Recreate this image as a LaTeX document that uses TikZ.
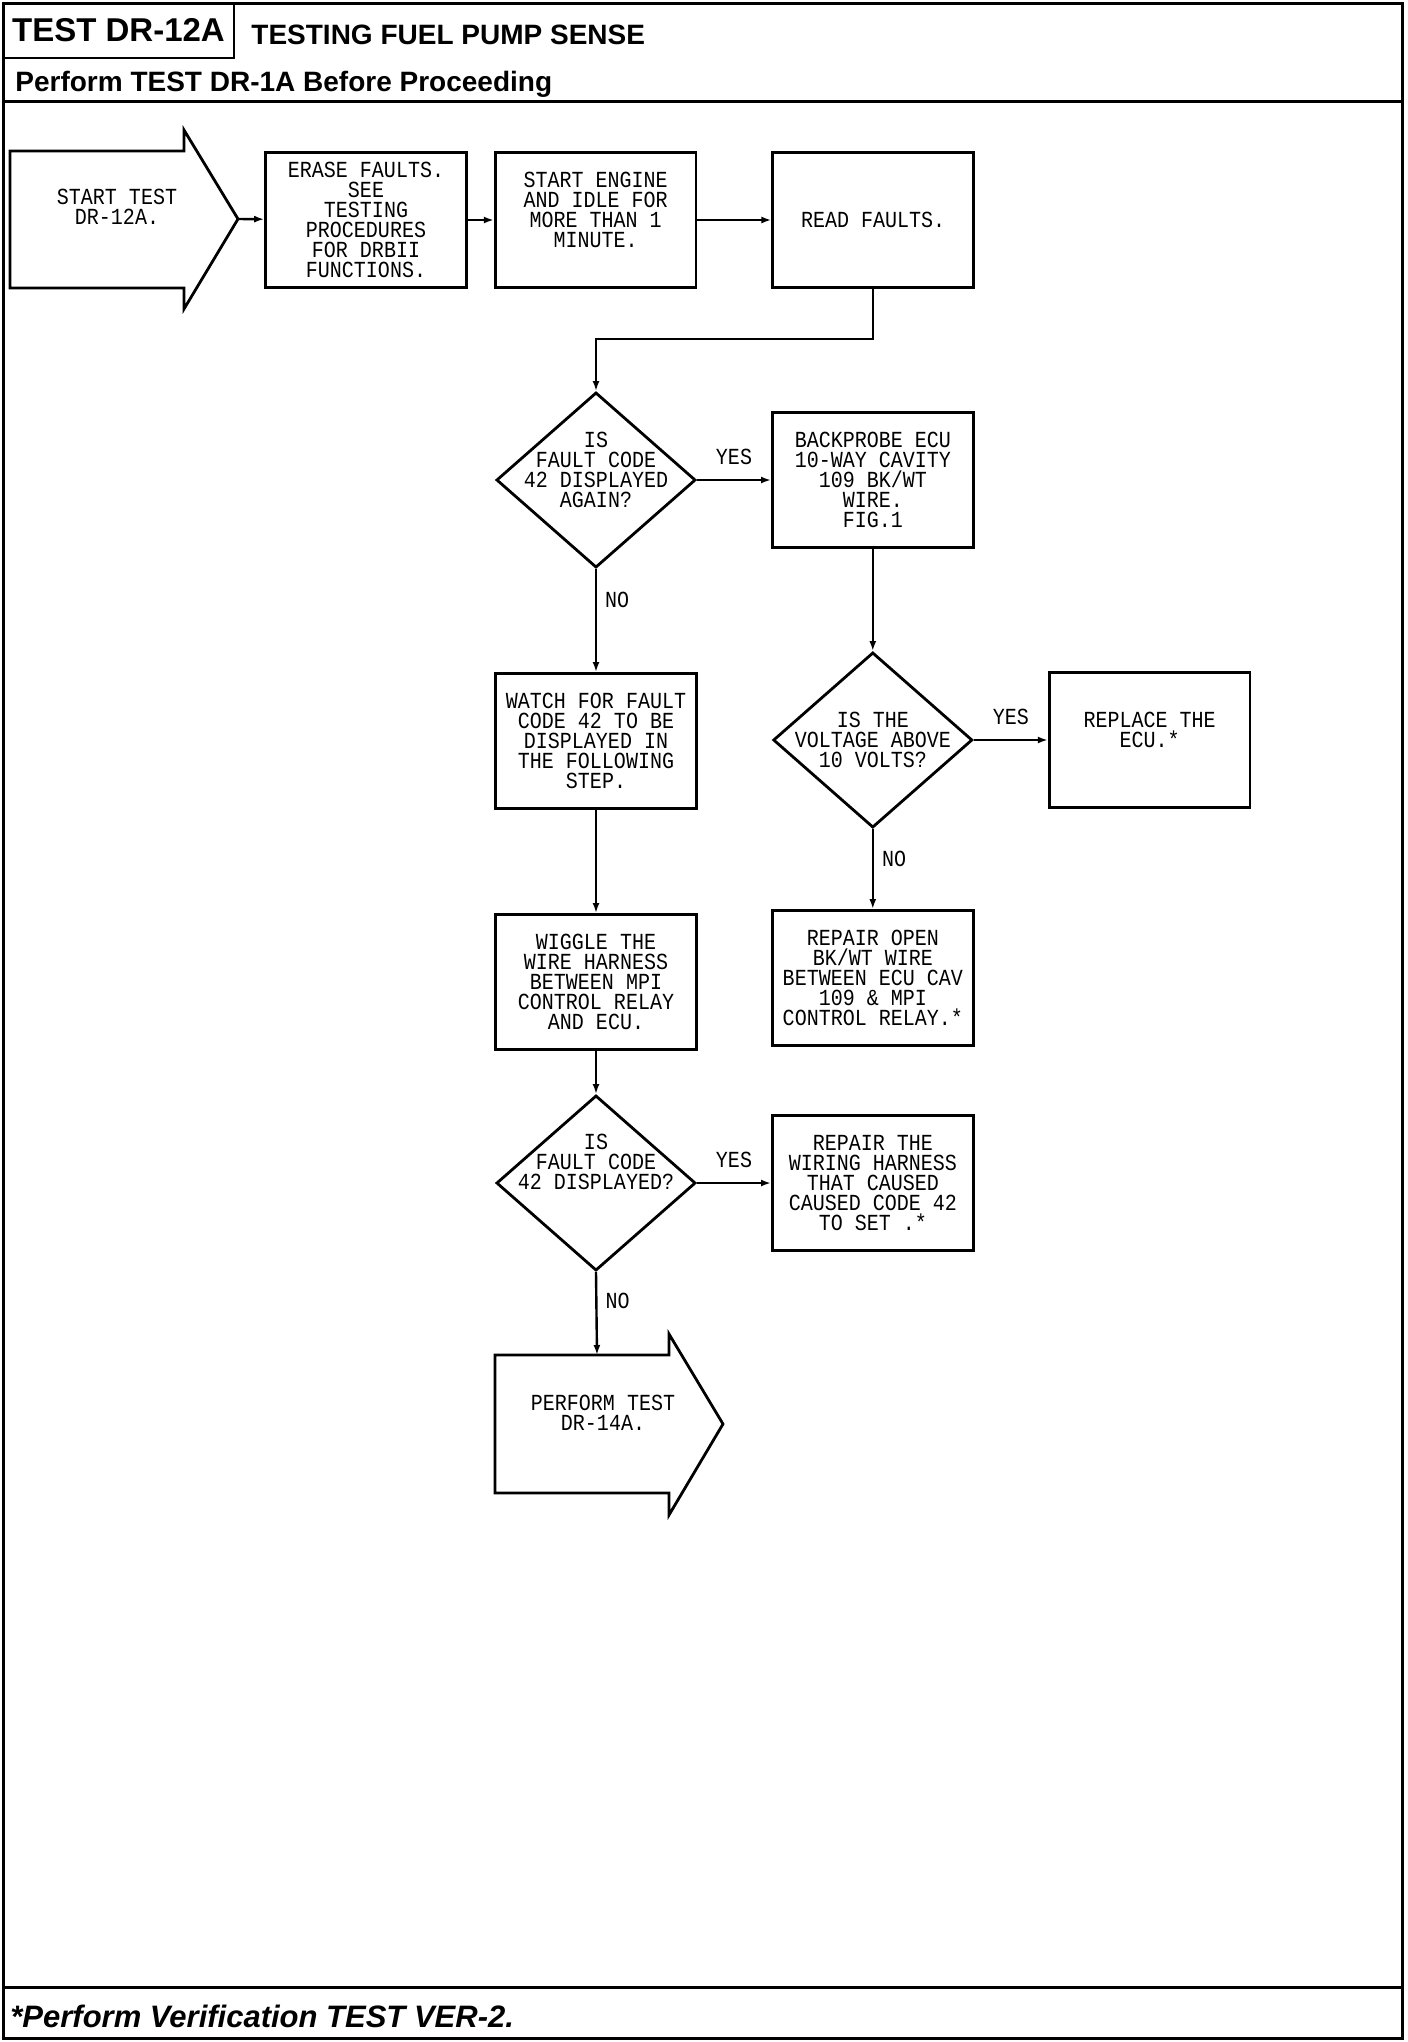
\documentclass[tikz,border=0pt]{standalone}
\usepackage{fontspec}
\newfontfamily\headfont{Liberation Sans}
\newfontfamily\cadfont[FakeStretch=0.87]{Liberation Mono}
\newcommand{\flowfont}{\cadfont\fontsize{11.5}{10}\selectfont}
\usetikzlibrary{shapes}
\usetikzlibrary{positioning}
\usetikzlibrary{arrows.meta}

\begin{document}
\begin{tikzpicture}[
    x=0.5pt, y=-0.5pt,
    >={Latex[length=5pt,width=3.5pt]},
    every node/.style={font=\flowfont},
    stepbox/.style={draw, line width=1.4pt, minimum width=100.4pt, minimum height=67.6pt, inner sep=0pt, align=center},
    decision/.style={draw, diamond, line width=1.4pt, minimum width=99.6pt, minimum height=87.6pt, inner sep=0pt},
    qtext/.style={inner sep=0pt, align=center},
    link/.style={->, line width=1.2pt},
    answer/.style={inner sep=0pt},
    heading/.style={inner sep=0pt, font=\headfont\bfseries\fontsize{14}{16}\selectfont}
]
\useasboundingbox (0,0) rectangle (1408,2042);

% frame and headings
\draw[line width=1.5pt] (3,3) rectangle (1402,2038);
\draw[line width=1.2pt] (3,58) -| (234,3);
\draw[line width=1.5pt] (3,101) -- (1402,101);
\draw[line width=1.5pt] (3,1987) -- (1402,1987);
\node[heading, anchor=base, font=\headfont\bfseries\fontsize{16.5}{18}\selectfont] (testid) at (118.5,41) {TEST DR-12A};
\node[heading, anchor=base west] (title) at (251,44) {TESTING FUEL PUMP SENSE};
\node[heading, anchor=base west] (before) at (15,91) {Perform TEST DR-1A Before Proceeding};
\node[heading, anchor=base west, font=\headfont\bfseries\itshape\fontsize{15.5}{17}\selectfont] (verify) at (10,2027) {*Perform Verification TEST VER-2.};

% start and end arrows
\draw[line width=1.4pt] (10,151) -- (184,151) -- (184,130) -- (238,219) -- (184,309) -- (184,288) -- (10,288) -- cycle;
\coordinate (starttip) at (238,219);
\node[qtext] (start) at (117,207) {START TEST\\DR-12A.};
\draw[line width=1.4pt] (495,1355) -- (669,1355) -- (669,1334) -- (723,1424) -- (669,1515) -- (669,1493) -- (495,1493) -- cycle;
\coordinate (performtop) at (597,1355);
\node[qtext] (perform) at (603,1413) {PERFORM TEST\\DR-14A.};

% boxes
\node[stepbox] (erase) at (366,220) {ERASE FAULTS.\\SEE\\TESTING\\PROCEDURES\\FOR DRBII\\FUNCTIONS.};
\node[stepbox, right=13pt of erase] (engine) {START ENGINE\\AND IDLE FOR\\MORE THAN 1\\MINUTE.\\\mbox{}};
\node[stepbox, right=37pt of engine] (read) {READ FAULTS.};
\node[decision] (q1) at (596,480) {};
\node[qtext] (q1txt) at ([yshift=5pt]q1) {IS\\FAULT CODE\\42 DISPLAYED\\AGAIN?};
\node[stepbox, right=37pt of q1] (probe) {BACKPROBE ECU\\10-WAY CAVITY\\109 BK/WT\\WIRE.\\FIG.1};
\node[decision, below=51pt of probe] (q2) {};
\node[qtext] (q2txt) at (q2) {IS THE\\VOLTAGE ABOVE\\10 VOLTS?};
\node[stepbox, right=37pt of q2] (ecu) {REPLACE THE\\ECU.*\\\mbox{}};
\node[stepbox, below=40pt of q2] (reopen) {REPAIR OPEN\\BK/WT WIRE\\BETWEEN ECU CAV\\109 \& MPI\\CONTROL RELAY.*};
\node[stepbox, below=51.5pt of q1] (watch) {WATCH FOR FAULT\\CODE 42 TO BE\\DISPLAYED IN\\THE FOLLOWING\\STEP.};
\node[stepbox, below=51.5pt of watch] (wiggle) {WIGGLE THE\\WIRE HARNESS\\BETWEEN MPI\\CONTROL RELAY\\AND ECU.};
\node[decision, below=21.5pt of wiggle] (q3) {};
\node[qtext] (q3txt) at ([yshift=10.5pt]q3) {IS\\FAULT CODE\\42 DISPLAYED?};
\node[stepbox, right=37pt of q3] (rewire) {REPAIR THE\\WIRING HARNESS\\THAT CAUSED\\CAUSED CODE 42\\TO SET .*};

% connectors
\draw[link] (starttip) -- (erase);
\draw[link] (erase) -- (engine);
\draw[link] (engine) -- (read);
\draw[link] (read.south) -- ++(0,50) -| (q1.north);
\draw[link] (q1.east) -- node[answer, midway, above=7pt] (yes1) {YES} (probe.west);
\draw[link] (q1.south) -- node[answer, pos=0.3, right=4pt] (no1) {NO} (watch.north);
\draw[link] (probe.south) -- (q2.north);
\draw[link] (q2.east) -- node[answer, midway, above=7pt] (yes2) {YES} (ecu.west);
\draw[link] (q2.south) -- node[answer, pos=0.37, right=4pt] (no2) {NO} (reopen.north);
\draw[link] (watch.south) -- (wiggle.north);
\draw[link] (wiggle.south) -- (q3.north);
\draw[link] (q3.east) -- node[answer, midway, above=7pt] (yes3) {YES} (rewire.west);
\draw[link] (q3.south) -- node[answer, pos=0.35, right=4pt] (no3) {NO} (performtop);
\end{tikzpicture}
\end{document}
